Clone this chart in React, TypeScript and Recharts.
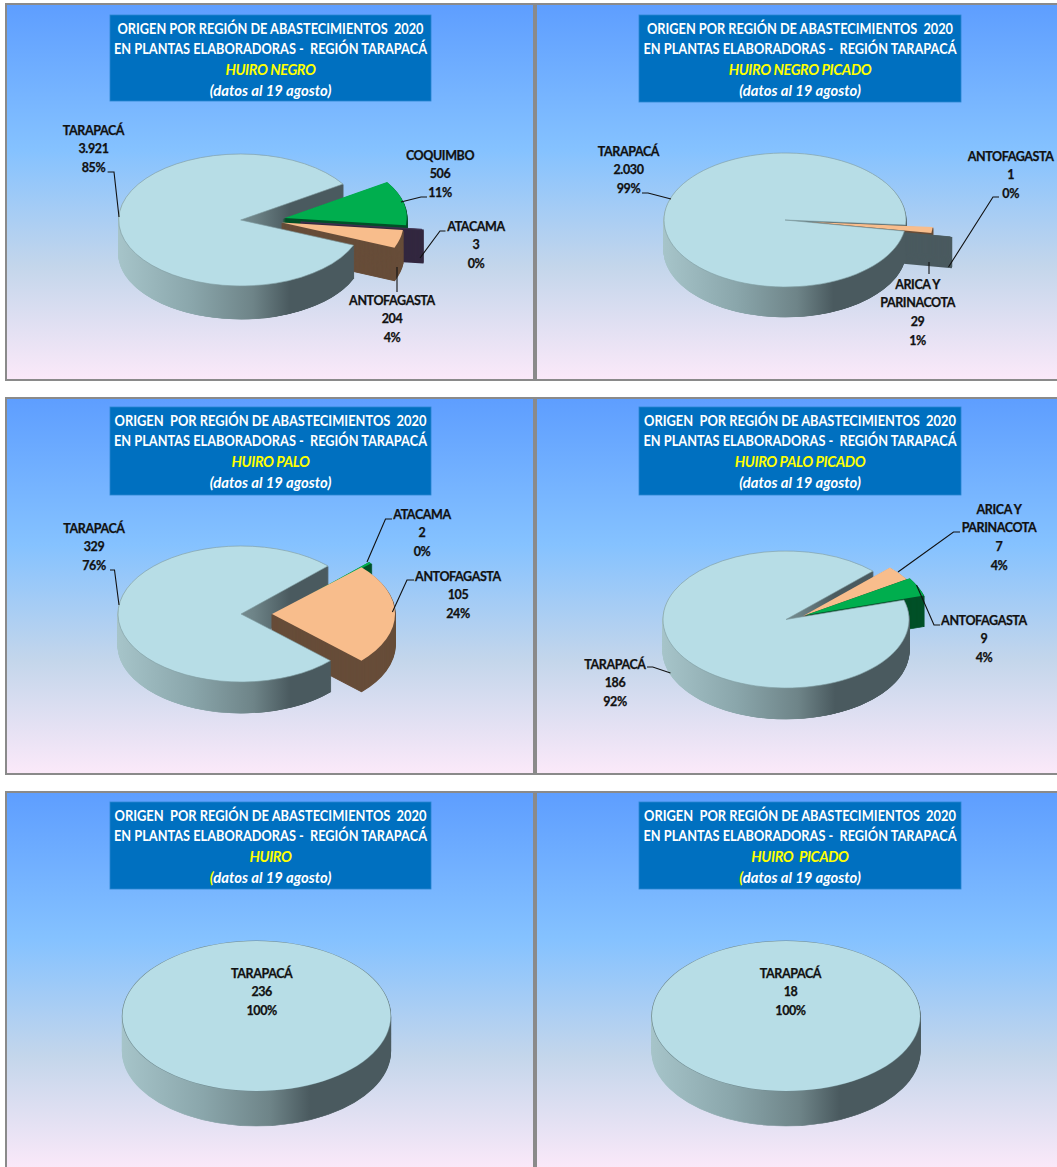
import React from 'react';
import { PieChart, Pie, Cell } from 'recharts';

// values
const negroRegions = ['COQUIMBO', 'ATACAMA', 'ANTOFAGASTA', 'TARAPACÁ'];
const negroValues = [506, 3, 204, 3921];
const negroValueLabels = ['506', '3', '204', '3.921'];
const negroPercents = ['11%', '0%', '4%', '85%'];

const negroPicadoRegions = ['ARICA Y|PARINACOTA', 'ANTOFAGASTA', 'TARAPACÁ'];
const negroPicadoValues = [29, 1, 2030];
const negroPicadoValueLabels = ['29', '1', '2.030'];
const negroPicadoPercents = ['1%', '0%', '99%'];

const paloRegions = ['ATACAMA', 'ANTOFAGASTA', 'TARAPACÁ'];
const paloValues = [2, 105, 329];
const paloValueLabels = ['2', '105', '329'];
const paloPercents = ['0%', '24%', '76%'];

const paloPicadoRegions = ['ARICA Y|PARINACOTA', 'ANTOFAGASTA', 'TARAPACÁ'];
const paloPicadoValues = [7, 9, 186];
const paloPicadoValueLabels = ['7', '9', '186'];
const paloPicadoPercents = ['4%', '4%', '92%'];

const huiroRegions = ['TARAPACÁ'];
const huiroValues = [236];
const huiroValueLabels = ['236'];
const huiroPercents = ['100%'];

const huiroPicadoRegions = ['TARAPACÁ'];
const huiroPicadoValues = [18];
const huiroPicadoValueLabels = ['18'];
const huiroPicadoPercents = ['100%'];

const LIGHT = { face: '#b7dde6', wall: '' };
const PEACH = { face: '#f8bd8c', wall: '#674d39' };
const GREEN = { face: '#00ae4e', wall: '#005128' };
const PURPLE = { face: '#3f3151', wall: '#32273f' };
const SLATE = { face: '#4a5a5f', wall: '#4a5a5f' };

const FONT = 'Lato, "Open Sans", sans-serif';
const BORDER = 2;

type Pt = [number, number];

const panels: any[] = [
  {
    id: 'p1', x: 5, y: 3, w: 530, h: 378, boxX: 110, boxY: 15, boxW: 321, boxH: 86, gapTitle: false,
    subtitle: 'HUIRO NEGRO', regions: negroRegions, values: negroValues, valueLabels: negroValueLabels, percents: negroPercents,
    cx: 240.7, cy: 220, rx: 122, ry: 66, depth: 33, start: 33,
    colors: [GREEN, PURPLE, PEACH, LIGHT],
    offsets: [[44, -2], [60, 2], [41, 2.5], [0, 0]], order: [0, 1, 2],
    labelPos: [[440, 155], [476, 226], [392, 300], [93.5, 130]],
    leaders: [
      [[427, 197], [421, 197], [401, 202]],
      [[445.5, 231], [440, 231], [420, 258]],
      [[397, 267], [397, 292]],
      [[107.6, 172], [114, 172], [119, 217]],
    ],
  },
  {
    id: 'p2', x: 535, y: 3, w: 530, h: 378, boxX: 639, boxY: 15, boxW: 322, boxH: 87, gapTitle: false,
    subtitle: 'HUIRO NEGRO PICADO', regions: negroPicadoRegions, values: negroPicadoValues, valueLabels: negroPicadoValueLabels, percents: negroPicadoPercents,
    cx: 785, cy: 220, rx: 121, ry: 67, depth: 30, start: -4.3,
    colors: [PEACH, SLATE, LIGHT],
    offsets: [[27, 2], [46, 6], [0, 0]], order: [0, 1],
    labelPos: [[917.6, 284], [1010.7, 156], [628.5, 151]],
    leaders: [
      [[929, 262], [929, 274]],
      [[999, 197], [993, 197], [948.5, 267]],
      [[642, 193], [648, 193], [671, 199]],
    ],
  },
  {
    id: 'p3', x: 5, y: 397, w: 530, h: 378, boxX: 110, boxY: 407, boxW: 321, boxH: 88, gapTitle: true,
    subtitle: 'HUIRO PALO', regions: paloRegions, values: paloValues, valueLabels: paloValueLabels, percents: paloPercents,
    cx: 241, cy: 614, rx: 123, ry: 68, depth: 31, start: 45,
    colors: [GREEN, PEACH, LIGHT],
    offsets: [[41, -4], [31, 0], [0, 0]], order: [0, 1],
    labelPos: [[422, 514], [458, 576], [94, 528]],
    leaders: [
      [[392, 519], [385.5, 519], [367, 562]],
      [[414, 580], [407, 580], [392.4, 612]],
      [[110, 570], [114.5, 570], [119, 605]],
    ],
  },
  {
    id: 'p4', x: 535, y: 397, w: 530, h: 378, boxX: 639, boxY: 407, boxW: 322, boxH: 88, gapTitle: true,
    subtitle: 'HUIRO PALO PICADO', regions: paloPicadoRegions, values: paloPicadoValues, valueLabels: paloPicadoValueLabels, percents: paloPicadoPercents,
    cx: 786, cy: 619.5, rx: 123, ry: 68.5, depth: 31, start: 45,
    colors: [PEACH, GREEN, LIGHT],
    offsets: [[17, -3.5], [20, -4.5], [0, 0]], order: [0, 1],
    labelPos: [[999, 509], [984, 620], [615, 664]],
    leaders: [
      [[960, 532], [953.5, 532], [898, 572]],
      [[940, 625], [934, 625], [916.5, 585]],
      [[647, 667], [652.7, 667], [670.5, 673]],
    ],
  },
  {
    id: 'p5', x: 5, y: 791, w: 530, h: 381, boxX: 110, boxY: 802, boxW: 321, boxH: 87, gapTitle: true, yellowParen: true,
    subtitle: 'HUIRO', regions: huiroRegions, values: huiroValues, valueLabels: huiroValueLabels, percents: huiroPercents,
    cx: 256.5, cy: 1016, rx: 134, ry: 75, depth: 35, start: 90,
    colors: [LIGHT], offsets: [[0, 0]], order: [],
    labelPos: [[261.7, 973]], leaders: [],
  },
  {
    id: 'p6', x: 535, y: 791, w: 530, h: 381, boxX: 639, boxY: 802, boxW: 322, boxH: 87, gapTitle: true, yellowParen: true,
    subtitle: 'HUIRO  PICADO', regions: huiroPicadoRegions, values: huiroPicadoValues, valueLabels: huiroPicadoValueLabels, percents: huiroPicadoPercents,
    cx: 786, cy: 1016, rx: 134, ry: 75, depth: 35, start: 90,
    colors: [LIGHT], offsets: [[0, 0]], order: [],
    labelPos: [[790.5, 973]], leaders: [],
  },
];

const PiePanel = ({ p }: { p: any }) => {
  const squash = p.ry / p.rx;
  const localX = p.cx - p.x;
  const localY = (p.cy - p.y) / squash;
  const chartH = p.h / squash;
  const data = p.values.map((value: number, i: number) => ({ name: p.regions[i], value }));
  const main = data.length - 1;
  const total = p.values.reduce((a: number, b: number) => a + b, 0);
  const edge = p.start - ((total - p.values[main]) / total) * 360;
  const wallId = `wall-${p.id}`;
  const mainWall = `url(#${wallId})`;
  const pies: React.ReactNode[] = [];

  const sector = (key: string, index: number, dy: number, ox: number, oy: number, fill: string, stroke: string, width: number, extra = 0) => (
    <Pie
      key={key}
      data={data}
      dataKey="value"
      cx={localX + ox}
      cy={localY + (oy + dy) / squash}
      outerRadius={p.rx + extra}
      startAngle={p.start}
      endAngle={p.start - 360}
      stroke="none"
      label={false}
      labelLine={false}
      legendType="none"
      isAnimationActive={false}
    >
      {data.map((_: any, j: number) => (
        <Cell
          key={j}
          fill={j === index ? fill : 'none'}
          stroke={j === index ? stroke : 'none'}
          strokeWidth={j === index ? width : 0}
        />
      ))}
    </Pie>
  );

  for (let d = p.depth; d >= 1; d--) {
    pies.push(sector(`back-${d}`, main, d, 0, 0, mainWall, mainWall, 1.2));
  }
  p.order.forEach((i: number) => {
    const [ox, oy] = p.offsets[i];
    const c = p.colors[i];
    // very thin slices need a fat stroke or the stacked layers show gaps
    const thin = (p.values[i] / total) * 360 < 1;
    for (let d = p.depth; d >= 1; d--) {
      pies.push(sector(`s${i}-${d}`, i, d, ox, oy, c.wall, c.wall, thin ? 3.5 : 1.5));
    }
    pies.push(sector(`s${i}-top`, i, 0, ox, oy, c.face, thin ? c.face : 'none', 1));
  });
  if (p.order.length > 0) {
    // front wall of the big slice goes over the pulled out slices
    for (let d = p.depth; d >= 1; d--) {
      pies.push(
        <Pie
          key={`front-${d}`}
          data={[data[main]]}
          dataKey="value"
          cx={localX}
          cy={localY + d / squash}
          outerRadius={p.rx}
          startAngle={edge}
          endAngle={-180}
          fill={mainWall}
          stroke={mainWall}
          strokeWidth={1.2}
          label={false}
          labelLine={false}
          legendType="none"
          isAnimationActive={false}
        />
      );
    }
    pies.push(sector('main-top', main, 0, 0, 0, LIGHT.face, '#7f9ca1', 0.8));
  } else {
    // whole circle: a stroke would draw a radius, so the outline is a slightly bigger disc
    pies.push(sector('main-rim', main, 0, 0, 0, '#6f8a90', 'none', 0, 0.7));
    pies.push(sector('main-top', main, 0, 0, 0, LIGHT.face, 'none', 0));
  }

  return (
    <div
      style={{
        position: 'absolute',
        left: p.x,
        top: p.y,
        width: p.w,
        height: p.h,
        boxSizing: 'border-box',
        overflow: 'hidden',
        border: `${BORDER}px solid #8a8a8a`,
        background: 'linear-gradient(180deg, #5e9eff 0%, #85c2ff 39%, #c4d6eb 70%, #fbe9f9 100%)',
      }}
    >
      <div style={{ position: 'absolute', left: -BORDER, top: -BORDER, width: p.w, height: chartH, transform: `scaleY(${squash})`, transformOrigin: '0 0' }}>
        <PieChart width={p.w} height={chartH} margin={{ top: 0, right: 0, bottom: 0, left: 0 }}>
          <defs>
            <linearGradient id={wallId} gradientUnits="userSpaceOnUse" x1={localX - p.rx} x2={localX + p.rx} y1={0} y2={0}>
              <stop offset="0" stopColor="#a6c4c9" />
              <stop offset="0.3" stopColor="#8aa6ab" />
              <stop offset="0.55" stopColor="#6e8488" />
              <stop offset="0.7" stopColor="#4a5a5f" />
              <stop offset="1" stopColor="#4a5a5f" />
            </linearGradient>
          </defs>
          {pies}
        </PieChart>
      </div>
    </div>
  );
};

const PanelTexts = ({ p }: { p: any }) => {
  const mid = p.boxX + p.boxW / 2;
  const rowY = [13, 33, 54, 75].map((v) => p.boxY + v);
  const head = p.gapTitle ? 'ORIGEN  POR REGIÓN DE ABASTECIMIENTOS  2020' : 'ORIGEN POR REGIÓN DE ABASTECIMIENTOS  2020';
  const head2 = 'EN PLANTAS ELABORADORAS -  REGIÓN TARAPACÁ';
  const titleStyle: React.CSSProperties = { whiteSpace: 'pre', fontFamily: FONT, fontWeight: 700, fontSize: 14.5 };
  return (
    <g>
      <rect x={p.boxX} y={p.boxY} width={p.boxW} height={p.boxH} fill="#0070c0" stroke="#2a86cf" strokeWidth={0.8} />
      <text x={mid} y={rowY[0]} textAnchor="middle" dominantBaseline="central" fill="#fff" style={titleStyle} textLength={p.gapTitle ? 312 : 306} lengthAdjust="spacingAndGlyphs">{head}</text>
      <text x={mid} y={rowY[1]} textAnchor="middle" dominantBaseline="central" fill="#fff" style={titleStyle} textLength={313} lengthAdjust="spacingAndGlyphs">{head2}</text>
      <text x={mid} y={rowY[2]} textAnchor="middle" dominantBaseline="central" fill="#ffff00" style={{ ...titleStyle, fontStyle: 'italic', letterSpacing: -0.4 }}>{p.subtitle}</text>
      <text x={mid} y={rowY[3]} textAnchor="middle" dominantBaseline="central" fill="#fff" style={{ ...titleStyle, fontStyle: 'italic', fontSize: 14.8 }}>
        <tspan fill={p.yellowParen ? '#ffff00' : '#fff'}>(</tspan>datos al 19 agosto)
      </text>
      {p.leaders.map((pts: Pt[], i: number) => (
        <polyline key={i} points={pts.map((q) => q.join(',')).join(' ')} fill="none" stroke="#111" strokeWidth={1.1} />
      ))}
      {p.regions.map((region: string, i: number) => {
        const lines = [...region.split('|'), p.valueLabels[i], p.percents[i]];
        const [lx, ly] = p.labelPos[i];
        return lines.map((line: string, k: number) => (
          <text key={`${i}-${k}`} x={lx} y={ly + k * 18.7} textAnchor="middle" dominantBaseline="central" fill="#111" stroke="#111" strokeWidth={0.25} style={{ fontFamily: FONT, fontWeight: 700, fontSize: 12.5, letterSpacing: -0.4 }}>
            {line}
          </text>
        ));
      })}
    </g>
  );
};

export default function App() {
  return (
    <div style={{ position: 'absolute', left: 0, top: 0, width: 1057, height: 1167, overflow: 'hidden', background: '#fff' }}>
      {panels.map((p) => (
        <PiePanel key={p.id} p={p} />
      ))}
      <svg width={1057} height={1167} style={{ position: 'absolute', left: 0, top: 0 }}>
        {panels.map((p) => (
          <PanelTexts key={p.id} p={p} />
        ))}
      </svg>
    </div>
  );
}
